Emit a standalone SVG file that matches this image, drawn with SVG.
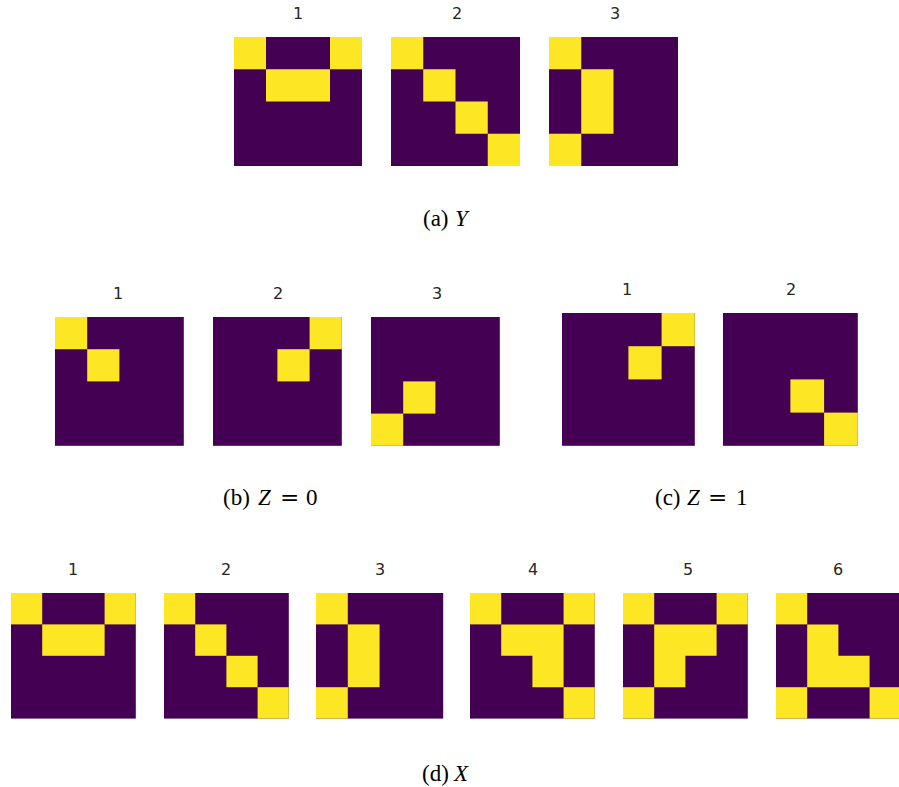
<svg xmlns="http://www.w3.org/2000/svg" width="899" height="787" viewBox="0 0 899 787">
<style>
.bg{fill:#440154}
.y{fill:#fde725}
.n{font-family:"DejaVu Sans",sans-serif;font-size:16px;fill:#262626;text-anchor:middle}
.cap{font-family:"Liberation Serif",serif;font-size:23px;fill:#000}
.it{font-style:italic}
.eq{font-family:"DejaVu Serif",serif}
</style>
<rect width="899" height="787" fill="#fff"/>
<!-- (a) Y -->
<g id="a1"><text class="n" x="298" y="19">1</text>
<g transform="translate(234,37) scale(32,32.25)"><rect class="bg" width="4" height="4"/><rect class="y" x="0" y="0" width="1" height="1"/><rect class="y" x="3" y="0" width="1" height="1"/><rect class="y" x="1" y="1" width="2" height="1"/></g></g>
<g id="a2"><text class="n" x="457" y="19">2</text>
<g transform="translate(391,37) scale(32.25,32.25)"><rect class="bg" width="4" height="4"/><rect class="y" x="0" y="0" width="1" height="1"/><rect class="y" x="1" y="1" width="1" height="1"/><rect class="y" x="2" y="2" width="1" height="1"/><rect class="y" x="3" y="3" width="1" height="1"/></g></g>
<g id="a3"><text class="n" x="615" y="19">3</text>
<g transform="translate(549,37) scale(32.25,32.25)"><rect class="bg" width="4" height="4"/><rect class="y" x="0" y="0" width="1" height="1"/><rect class="y" x="0" y="3" width="1" height="1"/><rect class="y" x="1" y="1" width="1" height="2"/></g></g>
<text id="capA" class="cap" y="226"><tspan x="423">(a)</tspan><tspan class="it" x="455">Y</tspan></text>
<!-- (b) Z=0 -->
<g id="b1"><text class="n" x="118" y="299">1</text>
<g transform="translate(55,317) scale(32.2,32.2)"><rect class="bg" width="4" height="4"/><rect class="y" x="0" y="0" width="1" height="1"/><rect class="y" x="1" y="1" width="1" height="1"/></g></g>
<g id="b2"><text class="n" x="278" y="299">2</text>
<g transform="translate(213,317) scale(32.2,32.2)"><rect class="bg" width="4" height="4"/><rect class="y" x="3" y="0" width="1" height="1"/><rect class="y" x="2" y="1" width="1" height="1"/></g></g>
<g id="b3"><text class="n" x="437" y="299">3</text>
<g transform="translate(371,317) scale(32.2,32.2)"><rect class="bg" width="4" height="4"/><rect class="y" x="1" y="2" width="1" height="1"/><rect class="y" x="0" y="3" width="1" height="1"/></g></g>
<text id="capB" class="cap" y="505"><tspan x="223">(b)</tspan><tspan class="it" x="258">Z</tspan><tspan class="eq" x="280">=</tspan><tspan x="306">0</tspan></text>
<!-- (c) Z=1 -->
<g id="c1"><text class="n" x="627" y="295">1</text>
<g transform="translate(562,313) scale(33.2,33.2)"><rect class="bg" width="4" height="4"/><rect class="y" x="3" y="0" width="1" height="1"/><rect class="y" x="2" y="1" width="1" height="1"/></g></g>
<g id="c2"><text class="n" x="791" y="295">2</text>
<g transform="translate(723,313) scale(33.7,33.2)"><rect class="bg" width="4" height="4"/><rect class="y" x="2" y="2" width="1" height="1"/><rect class="y" x="3" y="3" width="1" height="1"/></g></g>
<text id="capC" class="cap" y="505"><tspan x="655">(c)</tspan><tspan class="it" x="687">Z</tspan><tspan class="eq" x="708">=</tspan><tspan x="736">1</tspan></text>
<!-- (d) X -->
<g id="d1"><text class="n" x="73" y="575">1</text>
<g transform="translate(11,593) scale(31.2,31.4)"><rect class="bg" width="4" height="4"/><rect class="y" x="0" y="0" width="1" height="1"/><rect class="y" x="3" y="0" width="1" height="1"/><rect class="y" x="1" y="1" width="2" height="1"/></g></g>
<g id="d2"><text class="n" x="226" y="575">2</text>
<g transform="translate(164,593) scale(31.2,31.4)"><rect class="bg" width="4" height="4"/><rect class="y" x="0" y="0" width="1" height="1"/><rect class="y" x="1" y="1" width="1" height="1"/><rect class="y" x="2" y="2" width="1" height="1"/><rect class="y" x="3" y="3" width="1" height="1"/></g></g>
<g id="d3"><text class="n" x="380" y="575">3</text>
<g transform="translate(316,593) scale(31.8,31.4)"><rect class="bg" width="4" height="4"/><rect class="y" x="0" y="0" width="1" height="1"/><rect class="y" x="0" y="3" width="1" height="1"/><rect class="y" x="1" y="1" width="1" height="2"/></g></g>
<g id="d4"><text class="n" x="533" y="575">4</text>
<g transform="translate(470,593) scale(31.2,31.4)"><rect class="bg" width="4" height="4"/><rect class="y" x="0" y="0" width="1" height="1"/><rect class="y" x="3" y="0" width="1" height="1"/><path class="y" d="M1 1H3V3H2V2H1Z"/><rect class="y" x="3" y="3" width="1" height="1"/></g></g>
<g id="d5"><text class="n" x="688" y="575">5</text>
<g transform="translate(623,593) scale(31.2,31.4)"><rect class="bg" width="4" height="4"/><rect class="y" x="0" y="0" width="1" height="1"/><rect class="y" x="3" y="0" width="1" height="1"/><path class="y" d="M1 1H3V2H2V3H1Z"/><rect class="y" x="0" y="3" width="1" height="1"/></g></g>
<g id="d6"><text class="n" x="838" y="575">6</text>
<g transform="translate(776,593) scale(31.2,31.4)"><rect class="bg" width="4" height="4"/><rect class="y" x="0" y="0" width="1" height="1"/><path class="y" d="M1 1H2V2H3V3H1Z"/><rect class="y" x="0" y="3" width="1" height="1"/><rect class="y" x="3" y="3" width="1" height="1"/></g></g>
<text id="capD" class="cap" y="781"><tspan x="422">(d)</tspan><tspan class="it" x="454">X</tspan></text>
</svg>
